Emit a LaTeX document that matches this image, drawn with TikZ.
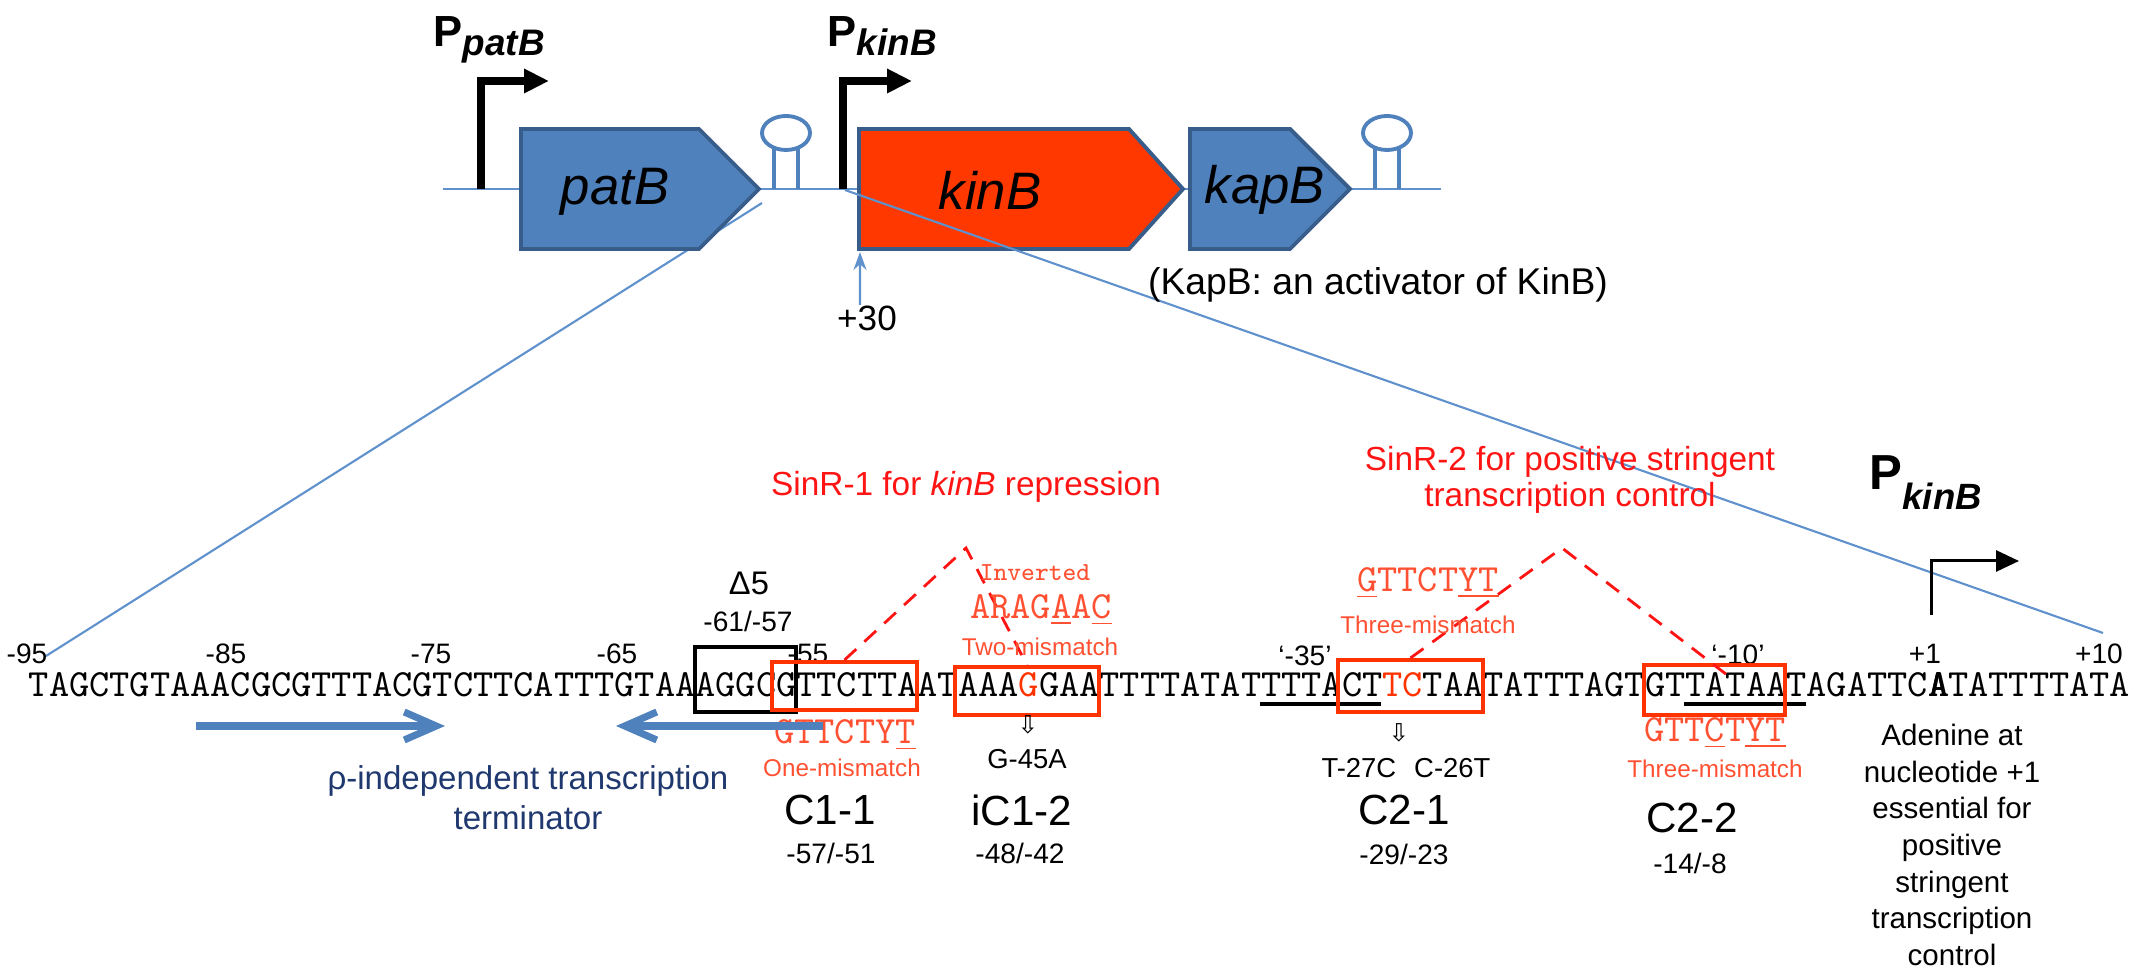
\documentclass[tikz,border=0pt]{standalone}
\usepackage{fontspec}
\setmainfont{Liberation Sans}
\newfontfamily\dejavu{DejaVu Sans}
\usetikzlibrary{arrows.meta}
\definecolor{geneblue}{RGB}{79,129,189}
\definecolor{geneedge}{RGB}{56,93,138}
\definecolor{kinred}{RGB}{255,56,0}
\definecolor{linkblue}{RGB}{95,145,205}
\definecolor{sinred}{RGB}{255,20,20}
\definecolor{boxred}{RGB}{255,51,0}
\definecolor{motifred}{RGB}{255,80,50}
\definecolor{termnavy}{RGB}{31,56,110}
\newcommand{\fsz}[2]{\fontsize{#1}{#2}\selectfont}
\newcommand{\ul}[1]{\underline{#1}}
\newcommand{\heavy}[1]{\makebox[0pt][l]{#1}\hspace{0.3pt}\makebox[0pt][l]{#1}\hspace{-0.3pt}#1}
\tikzset{
  backbone/.style={linkblue,line width=0.7pt},
  zoomline/.style={linkblue,line width=0.6pt},
  genebox/.style={draw=geneedge,line width=1.1pt},
  genename/.style={inner sep=0pt,font={\fsz{15}{18}\itshape}},
  hairpin/.style={draw=geneblue,line width=1.1pt},
  prom/.style={line width=2pt,-{Triangle[length=2.5mm,width=2.3mm]}},
  seq/.style={inner sep=0pt,font={\ttfamily\fsz{10.95}{12}}},
  motif/.style={inner sep=0pt,text=motifred,font={\ttfamily\fsz{10.95}{12}}},
  mis/.style={inner sep=0pt,text=motifred,font={\fsz{6.9}{8}}},
  posnum/.style={inner sep=0pt,font={\fsz{8}{9.6}}},
  mut/.style={inner sep=0pt,font={\fsz{7.8}{9.4}}},
  site/.style={inner sep=0pt,font={\fsz{12}{14}}},
  redbox/.style={draw=boxred,line width=1.15pt,inner sep=0pt},
  sinline/.style={sinred,line width=0.8pt,dash pattern=on 1.6mm off 1.1mm},
  termarrow/.style={geneblue,line width=2pt,-{Straight Barb[length=3.2mm,width=2.8mm]}}
}
\begin{document}
\begin{tikzpicture}[x=0.1mm,y=-0.1mm]
\useasboundingbox (0,0) rectangle (2133,967);

% operon
\draw[backbone] (443,189) -- (1441,189);
\coordinate (zoomL1) at (762,203);
\coordinate (zoomL2) at (46,656);
\draw[zoomline] (zoomL1) -- (zoomL2);
\draw[genebox,fill=geneblue] (521,129) -- (699,129) -- (759,189) -- (699,249) -- (521,249) -- cycle;
\draw[genebox,fill=kinred] (859,129) -- (1129,129) -- (1183,189) -- (1129,249) -- (859,249) -- cycle;
\draw[genebox,fill=geneblue] (1190,129) -- (1290,129) -- (1350,189) -- (1290,249) -- (1190,249) -- cycle;
\node[genename] (patB) at (615,192) {patB};
\node[genename] (kinB) at (990,190) {kinB};
\node[genename] (kapB) at (1265,190) {kapB};

\draw[hairpin] (774,189) -- (774,148) (798,189) -- (798,148);
\draw[hairpin,fill=white] (786,133) ellipse [x radius=2.4mm,y radius=1.7mm];
\draw[hairpin] (1375,189) -- (1375,148) (1399,189) -- (1399,148);
\draw[hairpin,fill=white] (1387,133) ellipse [x radius=2.4mm,y radius=1.7mm];

\coordinate (patBtss) at (481,189);
\coordinate (kinBtss) at (843,189);
\draw[prom] (patBtss) |- (549,81);
\draw[prom] (kinBtss) |- (912,81);
\node[anchor=base west,inner sep=0pt] (Ppat) at (433,47) {\fsz{12.4}{14}\bfseries P\raisebox{-0.9mm}{\fsz{10.5}{12}\itshape patB}};
\node[anchor=base west,inner sep=0pt] (Pkin) at (827,47) {\fsz{12.4}{14}\bfseries P\raisebox{-0.9mm}{\fsz{10.5}{12}\itshape kinB}};

\coordinate (zoomR1) at (845,190);
\coordinate (zoomR2) at (2103,633);
\draw[zoomline] (zoomR1) -- (zoomR2);

\node[inner sep=0pt,font={\fsz{10}{12}}] (plus30) at (867,318) {+30};
\coordinate (site30) at (860,252);
\draw[zoomline,-{Stealth[length=1.8mm,width=1.3mm]}] ([xshift=-0.7mm]plus30.north) -- (site30);
\node[inner sep=0pt,font={\fsz{10.6}{12}}] (kapnote) at (1378,285) {(KapB: an activator of KinB)};

% promoter region
\node[inner sep=0pt,text=sinred,font={\fsz{9.5}{11}}] (sinr1) at (966,487) {SinR-1 for \textit{kinB} repression};
\node[inner sep=0pt,text=sinred,align=center,font={\fsz{9.5}{10.2}}] (sinr2) at (1570,480) {SinR-2 for positive stringent\\transcription control};

\node[anchor=base west,inner sep=0pt] (Pkin2) at (1869,490) {\fsz{14}{16}\bfseries P\raisebox{-2mm}{\fsz{10.4}{12}\itshape kinB}};
\coordinate (tss) at (1931,615);
\draw[line width=0.85pt,-{Triangle[length=2.3mm,width=2.1mm]}] (tss) |- (2019,561);

\node[seq,anchor=base west] (seq) at (28.1,697) {TAGCTGTAAACGCGTTTACGTCTTCATTTGTAAAGGCGTTCTTAATAAA\textcolor{boxred}{G}GAATTTTATATTTTACT\textcolor{boxred}{TC}TAATATTTAGTGTTATAATAGATTC\heavy{A}TATTTTATA};
\draw[line width=1.1pt] (1260,704) -- (1381,704);
\draw[line width=1.1pt] (1684,704) -- (1806,704);

\node[posnum] (n95) at (27,654) {-95};
\node[posnum] (n85) at (226,654) {-85};
\node[posnum] (n75) at (431,654) {-75};
\node[posnum] (n65) at (617,654) {-65};
\node[posnum] (n55) at (808,654) {-55};
\node[posnum] (n35) at (1305,656) {`-35'};
\node[posnum] (n10) at (1738,655) {`-10'};
\node[posnum] (p1) at (1925,654) {+1};
\node[posnum] (p10) at (2099,654) {+10};

\node[inner sep=0pt,font={\fsz{9.3}{11}}] (delta) at (749,583) {Δ5};
\node[posnum] (delpos) at (748,621) {-61/-57};
\node[draw,line width=1.15pt,inner sep=0pt,minimum width=10.1mm,minimum height=6.5mm] (d5) at (745.2,679.5) {};

\node[redbox,minimum width=14.5mm,minimum height=4.8mm] (c11) at (844.5,686) {};
\node[redbox,minimum width=14.4mm,minimum height=4.8mm] (ic12) at (1026.9,691) {};
\node[redbox,minimum width=14.5mm,minimum height=5.2mm] (c21) at (1410.5,686) {};
\node[redbox,minimum width=14.1mm,minimum height=5mm] (c22) at (1714.5,690) {};

\coordinate (apex1) at (966,548);
\draw[sinline] (c11.north) -- (apex1) -- (ic12.north);
\coordinate (apex2) at (1562,548);
\coordinate (sin2end) at (1731,678);
\draw[sinline] (c21.north) -- (apex2) -- (sin2end);

\node[motif,font={\ttfamily\fsz{7.4}{8.5}}] (inv) at (1035,573) {Inverted};
\node[motif] (mi12) at (1041,610) {ARAG\ul{A}A\ul{C}};
\node[mis] (mis12) at (1040,647) {Two-mismatch};
\node[motif] (m21) at (1428,583) {\ul{G}TTCT\ul{Y}\ul{T}};
\node[mis] (mis21) at (1428,625) {Three-mismatch};
\node[motif] (m11) at (845,735) {GTTCTY\ul{T}};
\node[mis] (mis11) at (842,768) {One-mismatch};
\node[motif] (m22) at (1715,733) {GTT\ul{C}T\ul{Y}\ul{T}};
\node[mis] (mis22) at (1715,769) {Three-mismatch};

\node[inner sep=0pt,font={\dejavu\fsz{7}{8}}] (arr12) at (1028,725) {⇩};
\node[mut] (g45a) at (1027,759) {G-45A};
\node[inner sep=0pt,font={\dejavu\fsz{7}{8}}] (arr21) at (1399,733) {⇩};
\node[mut] (t27c) at (1406,768) {T-27C\hspace{1.8mm}C-26T};

\node[site] (lc11) at (830,810) {C1-1};
\node[posnum] (pc11) at (831,853) {-57/-51};
\node[site] (lic12) at (1022,810) {iC1-2};
\node[posnum] (pic12) at (1020,853) {-48/-42};
\node[site] (lc21) at (1404,810) {C2-1};
\node[posnum] (pc21) at (1404,854) {-29/-23};
\node[site] (lc22) at (1692,818) {C2-2};
\node[posnum] (pc22) at (1690,863) {-14/-8};

\draw[termarrow] (196,726) -- (445,726);
\draw[termarrow] (823,726) -- (616,726);
\node[inner sep=0pt,text=termnavy,align=center,font={\fsz{9.4}{11.4}}] (term) at (528,798) {ρ-independent transcription\\terminator};

\node[inner sep=0pt,align=center,font={\fsz{8.4}{10.4}}] (adenine) at (1952,845) {Adenine at\\nucleotide +1\\essential for\\positive\\stringent\\transcription\\control};
\end{tikzpicture}
\end{document}
